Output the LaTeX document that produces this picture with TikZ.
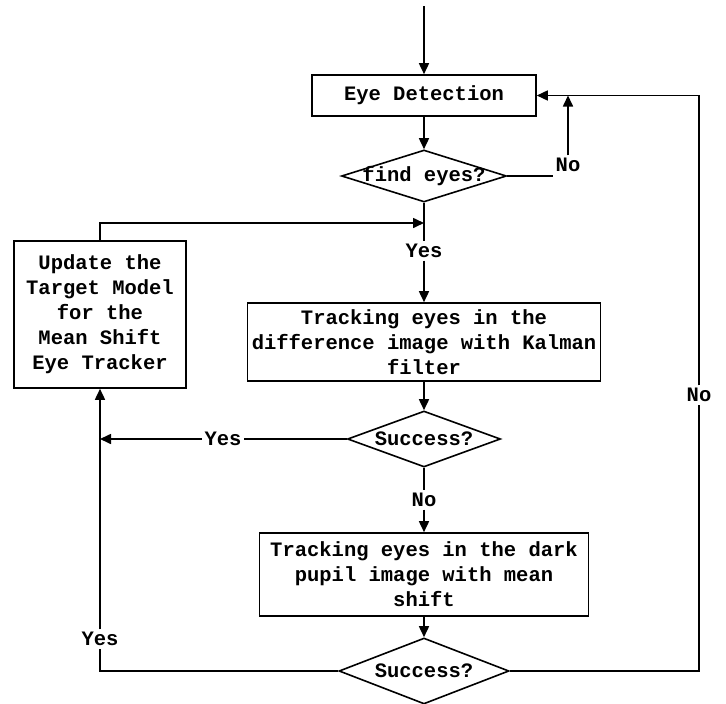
\documentclass[tikz,border=0pt]{standalone}
\usepackage{fontspec}
\setmonofont{Liberation Mono}
\usetikzlibrary{arrows.meta,shapes.geometric}

\begin{document}
\begin{tikzpicture}[x=1pt,y=-1pt,line width=1.6pt,
  font=\ttfamily\bfseries\fontsize{20.5}{25}\selectfont,
  arr/.style={-{Triangle[length=11pt,width=10pt]}},
  box/.style={draw,rectangle,align=center,inner sep=0pt},
  test/.style={draw,diamond,inner sep=0pt},
  lbl/.style={inner sep=2pt}]
\useasboundingbox (0,0) rectangle (726,704);
\coordinate (in) at (424,6);
\coordinate (join) at (424,223);
\node [box,minimum width=224,minimum height=41] (detect) at (424,95.5) {Eye Detection};
\node [test,minimum width=165,minimum height=52] (find) at (424,176) {\makebox[0pt]{find eyes?}};
\node [box,minimum width=353,minimum height=78] (track1) at (424,342) {Tracking eyes in the\\difference image with Kalman\\filter};
\node [test,minimum width=153,minimum height=56] (succ1) at (424,439) {\makebox[0pt]{Success?}};
\node [box,minimum width=329,minimum height=83] (track2) at (424,574.5) {Tracking eyes in the dark\\pupil image with mean\\shift};
\node [test,minimum width=170,minimum height=66] (succ2) at (424,671) {\makebox[0pt]{Success?}};
\node [box,minimum width=172,minimum height=147] (update) at (100,314.5) {Update the\\Target Model\\for the\\Mean Shift\\Eye Tracker};
\node [lbl] (yesA) at (424,251) {Yes};
\node [lbl] (noA) at (568,165) {No};
\node [lbl] (yesB) at (223,439) {Yes};
\node [lbl] (noB) at (424,500) {No};
\node [lbl] (yesC) at (100,639) {Yes};
\node [lbl] (noC) at (699,395) {No};
\draw [arr] (in) -- (detect);
\draw [arr] (detect) -- (find);
\draw (find.east) -- (find.east -| noA.west);
\draw [arr] (noA.north) -- (noA |- detect.east);
\draw (find.south) -- (yesA.north);
\draw [arr] (update.north) |- (join);
\draw [arr] (yesA.south) -- (track1.north);
\draw [arr] (track1.south) -- (succ1.north);
\draw (succ1.west) -- (succ1.west -| yesB.east);
\draw [arr] (yesB.west) -- (yesB -| update.south);
\draw (succ1.south) -- (noB.north);
\draw [arr] (noB.south) -- (track2.north);
\draw [arr] (track2.south) -- (succ2.north);
\draw (succ2.west) -| (yesC.south);
\draw [arr] (yesC.north) -- (update.south);
\draw (succ2.east) -| (noC.south);
\draw [arr] (noC.north) |- (detect.east);
\end{tikzpicture}
\end{document}
